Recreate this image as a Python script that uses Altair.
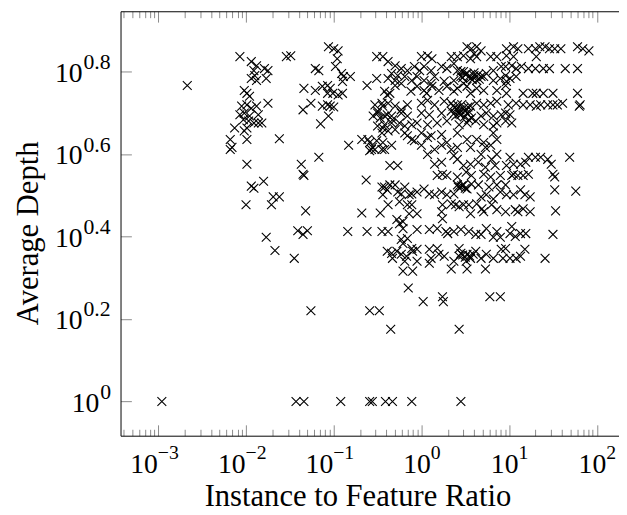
import altair as alt
import pandas as pd

# ---- data: (log10 instance/feature ratio, log10 average depth) ----
sparse_left = [
    (-2.67, 0.766), (-2.07, 0.836), (-1.94, 0.824), (-1.88, 0.814), (-1.91, 0.802), (-1.90, 0.790),
    (-1.94, 0.783), (-1.88, 0.778), (-1.79, 0.807), (-1.75, 0.802), (-1.77, 0.783), (-1.54, 0.836),
    (-1.49, 0.838), (-1.21, 0.807), (-1.17, 0.802), (-2.02, 0.754), (-1.99, 0.747), (-1.96, 0.740),
    (-1.75, 0.723), (-1.34, 0.759), (-1.21, 0.754), (-1.13, 0.764), (-1.26, 0.723), (-1.35, 0.707),
    (-1.13, 0.716), (-1.15, 0.673), (-2.05, 0.716), (-1.99, 0.719), (-1.94, 0.711), (-1.88, 0.716),
    (-2.07, 0.695), (-2.02, 0.699), (-1.96, 0.692), (-1.86, 0.695), (-2.03, 0.683), (-1.97, 0.680),
    (-1.91, 0.675), (-1.86, 0.675), (-1.82, 0.675), (-1.99, 0.663), (-2.02, 0.656), (-2.13, 0.663),
    (-2.18, 0.635), (-2.16, 0.616), (-2.18, 0.611), (-1.99, 0.635), (-1.62, 0.637), (-1.99, 0.575),
    (-1.37, 0.575), (-1.35, 0.551), (-1.34, 0.548), (-1.17, 0.592), (-1.94, 0.522), (-1.91, 0.517),
    (-1.80, 0.534), (-1.69, 0.496), (-1.62, 0.496), (-1.71, 0.477), (-2.00, 0.477), (-1.32, 0.462),
    (-1.77, 0.398), (-1.67, 0.366), (-1.45, 0.347), (-1.41, 0.414), (-1.35, 0.405), (-1.30, 0.414),
    (-1.26, 0.220), (-2.96, 0.0), (-1.43, 0.0), (-1.34, 0.0),
]

mid_upper = [
    (-1.06, 0.860), (-1.00, 0.855), (-0.95, 0.850), (-0.96, 0.831), (-0.98, 0.812), (-0.91, 0.795),
    (-0.89, 0.788), (-0.81, 0.788), (-0.90, 0.776), (-1.07, 0.766), (-1.04, 0.759), (-1.07, 0.747),
    (-1.01, 0.747), (-0.95, 0.743), (-0.90, 0.747), (-1.07, 0.719), (-1.04, 0.716), (-1.00, 0.714),
    (-1.06, 0.692), (-0.62, 0.766), (-0.51, 0.783), (-0.51, 0.836), (-0.44, 0.836), (-0.38, 0.824),
    (-0.30, 0.814), (-0.23, 0.807), (-0.16, 0.802), (-0.34, 0.795), (-0.27, 0.790), (-0.19, 0.788),
    (-0.38, 0.783), (-0.30, 0.778), (-0.23, 0.771), (-0.11, 0.778), (-0.30, 0.766), (-0.42, 0.752),
    (-0.36, 0.747), (-0.39, 0.743), (-0.12, 0.752), (-0.53, 0.719), (-0.45, 0.723), (-0.38, 0.723),
    (-0.30, 0.716), (-0.23, 0.707), (-0.16, 0.719), (-0.50, 0.704), (-0.44, 0.716), (-0.55, 0.692),
    (-0.50, 0.699), (-0.47, 0.687), (-0.39, 0.695), (-0.33, 0.683), (-0.25, 0.675), (-0.16, 0.692),
    (-0.42, 0.692), (-0.34, 0.692), (-0.23, 0.699), (-0.50, 0.668), (-0.44, 0.663), (-0.38, 0.656),
    (-0.30, 0.659), (-0.19, 0.668), (-0.11, 0.671), (-0.42, 0.671), (-0.34, 0.675), (-0.45, 0.651),
    (-0.19, 0.651), (-0.11, 0.635), (-0.83, 0.621), (-0.68, 0.635), (-0.61, 0.635), (-0.57, 0.611),
    (-0.59, 0.628), (-0.51, 0.632), (-0.44, 0.628), (-0.34, 0.621), (-0.59, 0.608), (-0.53, 0.611),
    (-0.45, 0.611), (-0.56, 0.616), (-0.42, 0.611), (-0.16, 0.644),
]

mid_lower = [
    (-0.36, 0.572), (-0.27, 0.572), (-0.63, 0.537), (-0.42, 0.520), (-0.36, 0.525), (-0.30, 0.525),
    (-0.39, 0.513), (-0.19, 0.520), (-0.23, 0.503), (-0.14, 0.501), (-0.45, 0.520), (-0.27, 0.508),
    (-0.11, 0.503), (-0.44, 0.501), (-0.25, 0.484), (-0.16, 0.477), (-0.11, 0.477), (-0.68, 0.457),
    (-0.47, 0.457), (-0.38, 0.477), (-0.14, 0.455), (-0.28, 0.441), (-0.25, 0.431), (-0.21, 0.436),
    (-0.84, 0.412), (-0.62, 0.412), (-0.45, 0.412), (-0.38, 0.412), (-0.21, 0.419), (-0.23, 0.393),
    (-0.16, 0.395), (-0.21, 0.383), (-0.11, 0.371), (-0.39, 0.364), (-0.34, 0.359), (-0.28, 0.364),
    (-0.23, 0.357), (-0.17, 0.352), (-0.10, 0.364), (-0.33, 0.347), (-0.19, 0.340), (-0.21, 0.316),
    (-0.10, 0.316),
]

right_upper = [
    (0.52, 0.860), (0.57, 0.855), (0.63, 0.860), (0.68, 0.850), (0.60, 0.843),
    (0.00, 0.836), (0.07, 0.838), (0.12, 0.831), (0.34, 0.836), (0.41, 0.836), (0.48, 0.838),
    (0.56, 0.831), (0.63, 0.836), (0.79, 0.836), (0.86, 0.836),
    (-0.08, 0.812), (-0.02, 0.802), (0.03, 0.812), (0.11, 0.802), (0.23, 0.812), (0.29, 0.807),
    (0.41, 0.802), (0.48, 0.800), (0.52, 0.795), (0.60, 0.790), (0.68, 0.788), (0.74, 0.795),
    (0.82, 0.802), (0.91, 0.812), (0.37, 0.819),
    (-0.05, 0.788), (0.03, 0.778), (0.15, 0.788), (0.26, 0.776), (0.37, 0.778), (0.45, 0.788),
    (0.56, 0.783), (0.63, 0.778), (0.71, 0.788), (0.82, 0.778), (0.90, 0.783), (0.11, 0.771),
    (0.48, 0.771),
    (-0.05, 0.764), (0.03, 0.754), (0.12, 0.764), (0.20, 0.754), (0.29, 0.764), (0.41, 0.759),
    (0.52, 0.764), (0.63, 0.759), (0.71, 0.754), (0.86, 0.754), (0.56, 0.747), (0.37, 0.752),
    (0.06, 0.747),
    (0.00, 0.723), (0.07, 0.730), (0.15, 0.719), (0.26, 0.728), (0.34, 0.723), (0.41, 0.719),
    (0.48, 0.711), (0.56, 0.716), (0.63, 0.723), (0.71, 0.719), (0.79, 0.723), (0.86, 0.728),
    (0.00, 0.699), (0.09, 0.695), (0.23, 0.699), (0.34, 0.704), (0.39, 0.692), (0.45, 0.695),
    (0.52, 0.699), (0.57, 0.687), (0.68, 0.692), (0.74, 0.699), (0.82, 0.692), (0.91, 0.695),
    (-0.05, 0.675), (0.07, 0.671), (0.18, 0.675), (0.29, 0.680), (0.43, 0.671), (0.52, 0.675),
    (0.62, 0.680), (0.71, 0.671), (0.82, 0.668), (0.86, 0.675),
    (0.00, 0.651), (0.11, 0.644), (0.23, 0.647), (0.41, 0.651), (0.52, 0.635), (0.63, 0.635),
    (0.71, 0.628), (0.79, 0.621), (0.86, 0.635), (0.82, 0.651),
    (0.00, 0.621), (0.15, 0.611), (0.23, 0.621), (0.41, 0.616), (0.56, 0.616), (0.73, 0.616),
    (-0.08, 0.632), (0.07, 0.640), (0.29, 0.628), (0.34, 0.611),
]

dense_core = [
    (0.45, 0.800), (0.50, 0.793), (0.55, 0.790), (0.60, 0.797), (0.65, 0.793), (0.47, 0.785),
    (0.58, 0.780), (0.66, 0.781), (0.36, 0.716), (0.40, 0.710), (0.44, 0.707), (0.50, 0.704),
    (0.55, 0.701), (0.46, 0.720), (0.53, 0.714), (0.38, 0.700), (0.43, 0.697), (0.49, 0.690),
    (0.54, 0.683), (0.42, 0.520), (0.46, 0.523), (0.50, 0.517), (0.43, 0.352), (0.47, 0.355),
    (0.50, 0.350), (0.55, 0.353), (0.59, 0.357),
]

right_lower = [
    (0.07, 0.599), (0.37, 0.596), (0.41, 0.587), (0.68, 0.599), (0.80, 0.587), (0.86, 0.599),
    (0.15, 0.575), (0.23, 0.580), (0.48, 0.572), (0.56, 0.575), (0.65, 0.580), (0.73, 0.568),
    (0.84, 0.572),
    (0.18, 0.548), (0.24, 0.551), (0.29, 0.548), (0.41, 0.544), (0.51, 0.556), (0.57, 0.548),
    (0.71, 0.551), (0.79, 0.544), (0.90, 0.548),
    (0.41, 0.525), (0.45, 0.520), (0.48, 0.525), (0.52, 0.515), (0.57, 0.527), (0.65, 0.525),
    (0.77, 0.520), (0.86, 0.525),
    (-0.05, 0.508), (0.03, 0.515), (0.09, 0.503), (0.15, 0.501), (0.23, 0.508), (0.29, 0.501),
    (0.37, 0.503), (0.68, 0.496), (0.74, 0.501), (0.82, 0.491), (0.90, 0.508),
    (0.34, 0.479), (0.39, 0.477), (0.43, 0.472), (0.48, 0.477), (0.54, 0.477), (0.63, 0.479),
    (0.69, 0.467), (0.80, 0.477), (0.86, 0.465),
    (-0.05, 0.455), (0.23, 0.460), (0.24, 0.443), (0.24, 0.477), (0.56, 0.455), (0.71, 0.460),
    (-0.05, 0.417), (0.09, 0.417), (0.18, 0.419), (0.28, 0.412), (0.37, 0.412), (0.45, 0.417),
    (0.54, 0.412), (0.62, 0.405), (0.68, 0.405), (0.74, 0.419), (0.86, 0.412), (0.82, 0.398),
    (0.90, 0.398), (0.30, 0.407),
    (-0.05, 0.369), (0.09, 0.369), (0.18, 0.371), (0.20, 0.357), (0.43, 0.371), (0.45, 0.359),
    (0.52, 0.357), (0.56, 0.347), (0.62, 0.364), (0.68, 0.347), (0.74, 0.357), (0.82, 0.347),
    (0.91, 0.369), (0.11, 0.347), (0.26, 0.352), (0.37, 0.340), (0.51, 0.340),
    (-0.05, 0.340), (0.09, 0.335), (0.34, 0.321), (0.52, 0.321), (0.73, 0.321),
]

far_right_upper = [
    (0.97, 0.855), (1.05, 0.860), (1.10, 0.855), (1.22, 0.855), (1.30, 0.855), (1.35, 0.860),
    (1.41, 0.860), (1.46, 0.855), (1.52, 0.855), (1.59, 0.855), (1.78, 0.860), (1.84, 0.855),
    (1.91, 0.850),
    (0.97, 0.838), (1.05, 0.836), (1.31, 0.836),
    (0.96, 0.812), (1.03, 0.814), (1.08, 0.807), (1.14, 0.812), (1.22, 0.807), (1.30, 0.807),
    (1.39, 0.807), (1.46, 0.807), (1.64, 0.807), (1.78, 0.807),
    (0.96, 0.790), (1.01, 0.783), (0.97, 0.776), (1.08, 0.788), (0.96, 0.766),
    (0.97, 0.747), (1.16, 0.747), (1.27, 0.747), (1.31, 0.747), (1.39, 0.747), (1.50, 0.747),
    (1.78, 0.747),
    (0.99, 0.719), (1.08, 0.723), (1.16, 0.719), (1.24, 0.719), (1.31, 0.716), (1.36, 0.719),
    (1.44, 0.719), (1.50, 0.719), (1.55, 0.719), (1.61, 0.723), (1.80, 0.716), (1.81, 0.719),
    (0.96, 0.699), (1.01, 0.695), (0.96, 0.680), (1.03, 0.675),
]

far_right_lower = [
    (1.01, 0.592), (1.22, 0.592), (1.30, 0.592), (1.36, 0.592), (1.44, 0.587), (1.48, 0.575),
    (1.69, 0.592), (0.97, 0.572), (1.05, 0.575), (1.13, 0.575), (1.19, 0.580),
    (1.03, 0.548), (1.05, 0.551), (1.10, 0.548), (1.16, 0.548), (1.22, 0.551), (1.50, 0.551),
    (1.52, 0.544),
    (0.96, 0.525), (0.97, 0.501), (1.05, 0.501), (1.13, 0.513), (1.18, 0.501), (1.24, 0.496),
    (1.52, 0.513), (1.76, 0.510),
    (0.96, 0.460), (1.07, 0.465), (1.10, 0.460), (1.16, 0.467), (1.24, 0.460), (1.53, 0.462),
    (1.03, 0.424), (1.01, 0.407), (1.07, 0.400), (1.13, 0.407), (1.19, 0.407), (1.50, 0.405),
    (0.96, 0.371), (0.93, 0.347), (1.01, 0.347), (1.08, 0.347), (1.13, 0.352), (1.18, 0.369),
    (1.41, 0.347),
]

low_sparse = [
    (-0.15, 0.275), (0.02, 0.242), (0.24, 0.254), (0.25, 0.242), (0.78, 0.254), (0.90, 0.254),
    (-0.59, 0.220), (-0.48, 0.220), (-0.35, 0.175), (0.43, 0.175),
    (-0.92, 0.0), (-0.59, 0.0), (-0.56, 0.0), (-0.41, 0.0), (-0.33, 0.0), (-0.11, 0.0), (0.45, 0.0),
]

# ---- axis definitions ----
x_major_exponents = [-3, -2, -1, 0, 1, 2]
x_exponent_labels = ["\u22123", "\u22122", "\u22121", "0", "1", "2"]
y_major_exponents = [0, 0.2, 0.4, 0.6, 0.8]
y_exponent_labels = ["0", "0.2", "0.4", "0.6", "0.8"]
base_label = "10"
x_domain_exponents = [-3.431, 2.253]
y_domain_exponents = [-0.083, 0.946]
x_title = "Instance to Feature Ratio"
y_title = "Average Depth"

groups = [sparse_left, mid_upper, mid_lower, right_upper, dense_core, right_lower,
          far_right_upper, far_right_lower, low_sparse]
rows = [p for g in groups for p in g]
df = pd.DataFrame(rows, columns=["ratio_log10", "depth_log10"])
df["ratio"] = 10.0 ** df["ratio_log10"]
df["depth"] = 10.0 ** df["depth_log10"]

W, H = 505, 430
FONT = "Liberation Serif"
TICK = "#8a8a8a"

x_lo, x_hi = 10.0 ** x_domain_exponents[0], 10.0 ** x_domain_exponents[1]
x_major = [10.0 ** e for e in x_major_exponents]
x_minor = [m * 10.0 ** e for e in range(-4, 3) for m in range(2, 10)
           if x_lo < m * 10.0 ** e < x_hi]
x_all = sorted(x_major + x_minor)
y_major = [10.0 ** e for e in y_major_exponents]

x_scale = alt.Scale(type="log", domain=[x_lo, x_hi], nice=False)
y_scale = alt.Scale(type="log", domain=[10.0 ** y_domain_exponents[0],
                                        10.0 ** y_domain_exponents[1]], nice=False)


def js_array(items):
    return "[" + ",".join("'" + s + "'" for s in items) + "]"


x_exp_expr = js_array(x_exponent_labels) + "[round(log(datum.value)/LN10) + 3]"
y_exp_expr = js_array(y_exponent_labels) + "[round(log(datum.value)/LN10*5)]"
major_test = "abs(log(datum.value)/LN10 - round(log(datum.value)/LN10)) < 0.001"
x_tick_size = {"condition": {"test": major_test, "value": 11}, "value": 6.5}
# horizontal shift of the "10" / exponent junction (negative exponents are wider)
x_label_shift = {"condition": {"test": "datum.value < 0.5", "value": -1}, "value": 9}
# distance from the axis of the "10" and of the exponent on the y axis
y_base_pad = {"condition": {"test": "datum.value < 1.2", "value": 22}, "value": 39}
y_exp_pad = {"condition": {"test": "datum.value < 1.2", "value": 21}, "value": 38}

tick_src = pd.DataFrame({"ratio": x_all})
xlab_src = pd.DataFrame({"ratio": x_major})
ytick_src = pd.DataFrame({"depth": y_major})

plain = dict(grid=False, ticks=False, tickSize=0, domain=False, title=None,
             labelFlush=False, labelOverlap=False, labelBound=False,
             labelFont=FONT, labelColor="black")


def x_tick_layer(orient, with_domain):
    return alt.Chart(tick_src).mark_point(opacity=0).encode(
        x=alt.X("ratio:Q", scale=x_scale, axis=alt.Axis(
            orient=orient, offset=-H, values=x_all, labels=False, grid=False,
            domain=with_domain, domainColor="black", domainWidth=1,
            ticks=True, tickColor=TICK, tickWidth=1, tickSize=x_tick_size, title=None)))


inner_bottom_ticks = x_tick_layer("top", False)
inner_top_ticks = x_tick_layer("bottom", True)

inner_left_ticks = alt.Chart(ytick_src).mark_point(opacity=0).encode(
    y=alt.Y("depth:Q", scale=y_scale, axis=alt.Axis(
        orient="right", offset=-W, values=y_major, labels=False, grid=False,
        domain=False, ticks=True, tickColor=TICK, tickWidth=1, tickSize=11, title=None)))

x_base_labels = alt.Chart(xlab_src).mark_point(opacity=0).encode(
    x=alt.X("ratio:Q", scale=x_scale, axis=alt.Axis(
        orient="bottom", values=x_major, labelExpr="'" + base_label + "'",
        labelFontSize=28, labelAlign="right", labelBaseline="alphabetic",
        labelPadding=37, labelOffset=x_label_shift, **plain)))

x_exp_labels = alt.Chart(xlab_src).mark_point(opacity=0).encode(
    x=alt.X("ratio:Q", scale=x_scale, axis=alt.Axis(
        orient="bottom", values=x_major, labelExpr=x_exp_expr,
        labelFontSize=20, labelAlign="left", labelBaseline="alphabetic",
        labelPadding=23, labelOffset=x_label_shift, **plain)))

y_base_labels = alt.Chart(ytick_src).mark_point(opacity=0).encode(
    y=alt.Y("depth:Q", scale=y_scale, axis=alt.Axis(
        orient="left", values=y_major, labelExpr="'" + base_label + "'",
        labelFontSize=28, labelAlign="right", labelBaseline="alphabetic",
        labelPadding=y_base_pad, labelOffset=10, **plain)))

y_exp_labels = alt.Chart(ytick_src).mark_point(opacity=0).encode(
    y=alt.Y("depth:Q", scale=y_scale, axis=alt.Axis(
        orient="left", values=y_major, labelExpr=y_exp_expr,
        labelFontSize=22, labelAlign="left", labelBaseline="alphabetic",
        labelPadding=y_exp_pad, labelOffset=-3, **plain)))

points = alt.Chart(df).mark_point(
    shape="M-1,-1L1,1M-1,1L1,-1", filled=False, stroke="black", strokeWidth=1.1,
    size=80, opacity=1,
).encode(
    x=alt.X("ratio:Q", scale=x_scale, axis=alt.Axis(
        orient="bottom", values=x_major, labels=False, ticks=False, tickSize=0,
        grid=False, domain=True, domainColor="black", domainWidth=1,
        title=x_title, titleFont=FONT, titleFontSize=31, titleFontWeight="normal",
        titleColor="black", titleX=240, titleY=71, titleBaseline="alphabetic")),
    y=alt.Y("depth:Q", scale=y_scale, axis=alt.Axis(
        orient="left", values=y_major, labels=False, ticks=False, tickSize=0,
        grid=False, domain=True, domainColor="black", domainWidth=1,
        title=y_title, titleFont=FONT, titleFontSize=31, titleFontWeight="normal",
        titleColor="black", titleX=-84, titleY=224.5, titleBaseline="alphabetic")),
)

chart = alt.layer(
    inner_bottom_ticks, inner_top_ticks, inner_left_ticks,
    x_base_labels, x_exp_labels, y_base_labels, y_exp_labels, points,
).resolve_axis(x="independent", y="independent").properties(
    width=W, height=H,
    autosize=alt.AutoSizeParams(type="none"),
    padding={"left": 114, "top": 0, "right": 0, "bottom": 74},
).configure_view(stroke=None)

chart.save("out.html", embed_options={"renderer": "svg", "actions": False})
